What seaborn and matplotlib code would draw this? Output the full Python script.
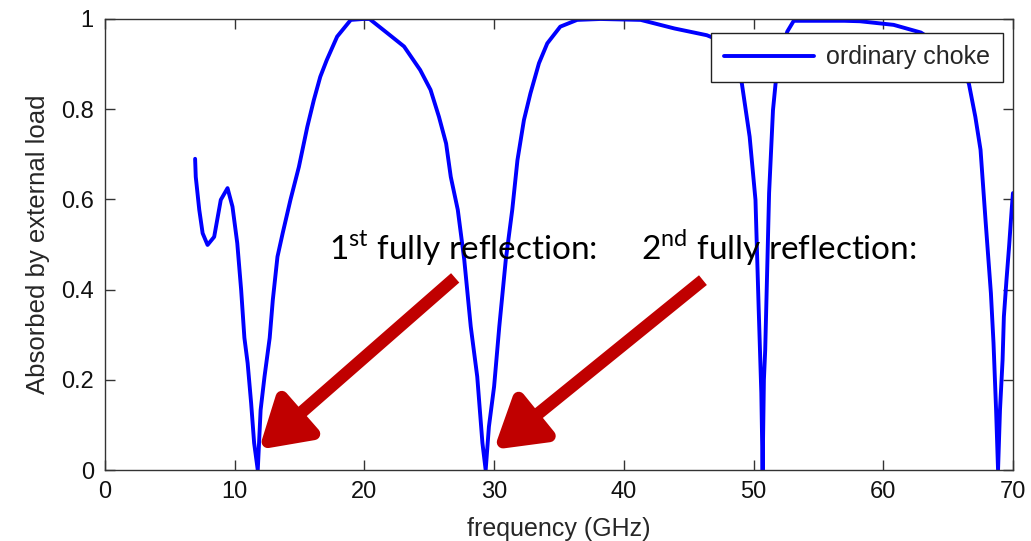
import matplotlib
matplotlib.use("Agg")
import matplotlib.pyplot as plt
import seaborn as sns
import pandas as pd

# values
freq = [6.95, 7.0, 7.27, 7.53, 7.91, 8.42, 8.93, 9.45, 9.83, 10.2, 10.5, 10.75,
        11.0, 11.27, 11.5, 11.78, 12.0, 12.3, 12.7, 12.94, 13.3, 13.7, 14.3,
        14.95, 15.6, 16.1, 16.6, 17.1, 17.9, 18.95, 19.9, 20.4, 21.8, 23.06,
        24.3, 25.1, 25.75, 26.3, 26.66, 27.2, 27.7, 28.2, 28.7, 29.1, 29.35,
        29.6, 30.0, 30.4, 30.9, 31.4, 31.8, 32.3, 32.8, 33.46, 34.1, 35.1,
        36.4, 38.2, 41.3, 43.9, 46.4, 47.6, 48.4, 49.1, 49.7, 50.15, 50.4,
        50.6, 50.7, 50.8, 50.9, 51.2, 51.5, 51.7, 52.2, 52.6, 53.1, 55.5,
        57.0, 58.2, 60.8, 62.9, 64.5, 65.8, 66.6, 67.1, 67.5, 67.9, 68.3,
        68.5, 68.7, 68.85, 69.0, 69.2, 69.3, 69.5, 69.7, 69.9, 70.0]
absorbed = [0.69, 0.65, 0.577, 0.525, 0.499, 0.517, 0.599, 0.625, 0.584, 0.503,
            0.399, 0.293, 0.237, 0.148, 0.06, 0.0, 0.133, 0.207, 0.293, 0.377,
            0.473, 0.525, 0.599, 0.672, 0.761, 0.82, 0.872, 0.909, 0.961, 0.998,
            1.0, 1.0, 0.968, 0.939, 0.887, 0.843, 0.783, 0.724, 0.65, 0.577,
            0.466, 0.318, 0.207, 0.06, 0.0, 0.096, 0.185, 0.318, 0.466, 0.577,
            0.687, 0.776, 0.835, 0.902, 0.946, 0.983, 0.998, 1.0, 0.998, 0.979,
            0.964, 0.95, 0.92, 0.857, 0.739, 0.599, 0.355, 0.171, 0.0, 0.2,
            0.266, 0.614, 0.798, 0.857, 0.93, 0.972, 0.996, 0.996, 0.996, 0.995,
            0.987, 0.97, 0.94, 0.9, 0.857, 0.783, 0.71, 0.548, 0.392, 0.282,
            0.133, 0.0, 0.133, 0.244, 0.34, 0.421, 0.495, 0.577, 0.614]

series_name = "ordinary choke"
x_ticks = [0, 10, 20, 30, 40, 50, 60, 70]
y_ticks = [0, 0.2, 0.4, 0.6, 0.8, 1]
y_tick_labels = ["0", "0.2", "0.4", "0.6", "0.8", "1"]

# annotations: (text, arrow tip, arrow tail, text position)
notes = [
    ("1$^{\\mathrm{st}}$ fully reflection:", (11.86, 0.045), (27.0, 0.426), (17.3, 0.465)),
    ("2$^{\\mathrm{nd}}$ fully reflection:", (29.97, 0.045), (46.1, 0.421), (41.35, 0.465)),
]

df = pd.DataFrame({"freq": freq, "absorbed": absorbed})

sns.set_style("white")
plt.rcParams["font.family"] = ["Liberation Sans", "DejaVu Sans"]
plt.rcParams["mathtext.fontset"] = "custom"
plt.rcParams["mathtext.rm"] = "Lato"

fig = plt.figure(figsize=(10.31, 5.41), dpi=100)
ax = fig.add_axes([0.1018, 0.1312, 0.8807, 0.8337])

sns.lineplot(data=df, x="freq", y="absorbed", color="#0000FF", linewidth=2.8,
             label=series_name, ax=ax, sort=False)

ax.set_xlim(0, 70)
ax.set_ylim(0, 1)
ax.set_xticks(x_ticks)
ax.set_xticklabels([str(t) for t in x_ticks])
ax.set_yticks(y_ticks)
ax.set_yticklabels(y_tick_labels)
ax.tick_params(direction="in", length=7, width=1, color="#333333",
               labelsize=17, labelcolor="#111111", top=True, right=True,
               bottom=True, left=True, pad=8)
for s in ax.spines.values():
    s.set_color("#333333")
    s.set_linewidth(1)

ax.set_xlabel("frequency (GHz)", fontsize=18, labelpad=10)
ax.set_ylabel("Absorbed by external load", fontsize=18.5, labelpad=8)

leg = ax.legend(loc="upper right", bbox_to_anchor=(0.989, 0.969), borderaxespad=0,
                fontsize=18, handlelength=3.6, handletextpad=0.5, borderpad=0.5,
                fancybox=False, framealpha=1, edgecolor="#222222")
leg.get_frame().set_linewidth(1)

for label, tip, tail, pos in notes:
    ax.annotate("", xy=tip, xytext=tail,
                arrowprops=dict(arrowstyle="-|>,head_length=0.9,head_width=0.55",
                                mutation_scale=32, lw=9, color="#C00000",
                                shrinkA=0, shrinkB=0, capstyle="butt",
                                joinstyle="round"))
    ax.text(pos[0], pos[1], label, family="Lato", fontsize=24, color="black",
            ha="left", va="baseline")

plt.savefig("out.png", dpi=100)
